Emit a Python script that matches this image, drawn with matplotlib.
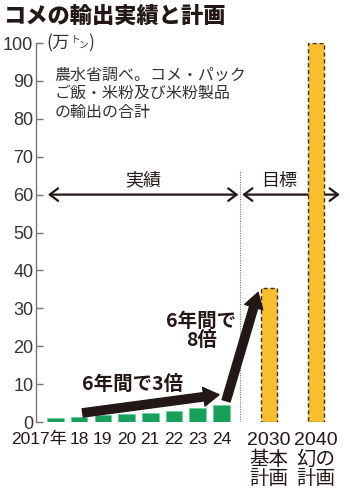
import matplotlib
matplotlib.use("Agg")
import matplotlib.pyplot as plt
from matplotlib.patches import FancyArrowPatch

plt.rcParams['font.family'] = ['Noto Sans CJK JP', 'DejaVu Sans']

# Export results (10k tonnes)
years = ["2017年", "18", "19", "20", "21", "22", "23", "24"]
actual = [1.18, 1.38, 1.72, 1.99, 2.27, 2.86, 3.73, 4.56]
# Targets
plan_labels = ["2030\n基本\n計画", "2040\n幻の\n計画"]
plans = [35.3, 100.0]
yticks = [0, 10, 20, 30, 40, 50, 60, 70, 80, 90, 100]

num_font = ['Liberation Sans', 'Noto Sans CJK JP']
green = "#18a05a"
yellow = "#f8be2e"
dark = "#231815"
grey_txt = "#333333"

fig = plt.figure(figsize=(3.5, 5.03), dpi=100)
ax = fig.add_axes([0.103, 0.161, 0.897, 0.7535])

x_act = list(range(len(actual)))
x_plan = [9, 11]
ax.bar(x_act, actual, width=0.7, color=green, edgecolor="#5ccf8a", linewidth=0.4, zorder=2)
ax.bar(x_plan, plans, width=0.68, color=yellow, edgecolor="#3a3020",
       linewidth=1.0, linestyle=(0, (3, 2)), zorder=3)

ax.set_xlim(-0.82, 12.43)
ax.set_ylim(0, 100)
ax.set_yticks(yticks)
ax.set_yticklabels([str(v) for v in yticks], family=num_font, fontsize=13, color=grey_txt)
ax.tick_params(axis='y', direction='in', length=5, width=1, color="#777777", pad=2)
ax.set_xticks([])
for s in ['top', 'right', 'bottom']:
    ax.spines[s].set_visible(False)
ax.spines['left'].set_color("#777777")
ax.spines['left'].set_linewidth(1)

# Year labels
ax.text(0.5, -2.6, years[0], ha='right', va='top', family=num_font,
        fontsize=12.5, color=dark)
for i, lab in enumerate(years[1:], start=1):
    ax.text(i, -2.6, lab, ha='center', va='top',
            family=num_font, fontsize=12.5, color=dark)
for xp, lab in zip(x_plan, plan_labels):
    ax.text(xp, -2.6, lab, ha='center', va='top', family=num_font,
            fontsize=14, color=dark, linespacing=1.1)

# Divider between results and targets
ax.axvline(7.8, ymin=0, ymax=0.665, color="#777777", lw=0.8, linestyle=(0, (1, 1.2)), zorder=1)

# Period arrows
arrow_kw = dict(arrowstyle='<->,head_length=0.6,head_width=0.45', color=dark, lw=1.6,
                shrinkA=0, shrinkB=0, zorder=2, mutation_scale=10)
ax.add_patch(FancyArrowPatch((-0.32, 60), (7.72, 60), **arrow_kw))
ax.add_patch(FancyArrowPatch((7.88, 60), (12.0, 60), **arrow_kw))
ax.text(3.7, 61.3, "実績", ha='center', va='bottom', fontsize=13, color=dark)
ax.text(9.45, 61.3, "目標", ha='center', va='bottom', fontsize=13, color=dark)

# Growth arrows
big_kw = dict(arrowstyle='simple,head_length=1.1,tail_width=0.6,head_width=1.35',
              color=dark, shrinkA=0, shrinkB=0, zorder=4, mutation_scale=10)
ax.add_patch(FancyArrowPatch((1.15, 2.4), (6.9, 7.2), **big_kw))
ax.add_patch(FancyArrowPatch((7.2, 5.6), (8.55, 34.2), **big_kw))
ax.text(3.27, 9.8, "6年間で3倍", ha='center', va='center', fontsize=14,
        fontweight='bold', color=dark)
ax.text(6.15, 24.0, "6年間で\n8倍", ha='center', va='center', fontsize=14,
        fontweight='bold', color=dark, linespacing=1.0)

# Unit and source note
ax.text(-0.38, 100, "(万", ha='left', va='center', fontsize=12.5, color=grey_txt)
ax.text(0.64, 101.0, "ト", ha='left', va='center', fontsize=7, color=grey_txt)
ax.text(0.96, 99.4, "ン", ha='left', va='center', fontsize=7, color=grey_txt)
ax.text(1.38, 100, ")", ha='left', va='center', fontsize=12.5, color=grey_txt)
ax.text(-0.05, 93.8, "農水省調べ。コメ・パック\nご飯・米粉及び米粉製品\nの輸出の合計",
        ha='left', va='top', fontsize=11.5, color=grey_txt, linespacing=1.12)

fig.text(0.012, 0.968, "コメの輸出実績と計画", ha='left', va='center',
         fontsize=16, fontweight='heavy', color=dark)

fig.savefig("out.png", dpi=100)
